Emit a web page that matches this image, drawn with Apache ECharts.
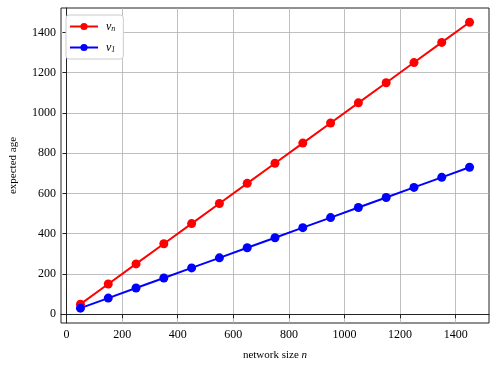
<!DOCTYPE html>
<html><head><meta charset="utf-8">
<script src="https://cdn.jsdelivr.net/npm/echarts@6/dist/echarts.min.js"></script>
<style>html,body{margin:0;padding:0;background:#fff}#c{width:498px;height:369px}</style>
</head><body><div id="c"></div>
<script>
const networkSize = [50,150,250,350,450,550,650,750,850,950,1050,1150,1250,1350,1450];
const vnValues = [50,150,250,350,450,550,650,750,850,950,1050,1150,1250,1350,1450];
const v1Values = [30,80,130,180,230,280,330,380,430,480,530,580,630,680,730];
const xTicks = [0,200,400,600,800,1000,1200,1400];
const yTicks = [0,200,400,600,800,1000,1200,1400];

const font = '"Liberation Serif", "DejaVu Serif", serif';
const chart = echarts.init(document.getElementById('c'));
const mk = arr => networkSize.map((x,i)=>[x,arr[i]]);
chart.setOption({
  animation:false,
  grid:{left:60,right:9,top:8,bottom:46,show:true,borderColor:'#222',borderWidth:1,backgroundColor:'transparent'},
  xAxis:{type:'value',min:-20,max:1520,
    name:'{t|network size }{i|n}',nameLocation:'middle',nameGap:27,
    nameTextStyle:{rich:{t:{fontFamily:font,fontSize:11,color:'#000'},i:{fontFamily:font,fontStyle:'italic',fontSize:11,color:'#000'}}},
    axisLine:{show:true,lineStyle:{color:'#222',width:1}},
    axisTick:{show:true,inside:false,length:4,customValues:xTicks,lineStyle:{color:'#222'}},
    axisLabel:{customValues:xTicks,formatter:v=>String(v),fontFamily:font,fontSize:12,color:'#000',margin:6},
    splitLine:{show:true,lineStyle:{color:'#b0b0b0',width:0.8}}},
  yAxis:{type:'value',min:-43.6,max:1521,
    name:'expected age',nameLocation:'middle',nameGap:42,nameRotate:90,
    nameTextStyle:{fontFamily:font,fontSize:11,color:'#000'},
    axisLine:{show:true,lineStyle:{color:'#222',width:1}},
    axisTick:{show:true,inside:false,length:4,customValues:yTicks,lineStyle:{color:'#222'}},
    axisLabel:{customValues:yTicks,formatter:v=>String(v),fontFamily:font,fontSize:12,color:'#000',margin:5},
    splitLine:{show:true,lineStyle:{color:'#b0b0b0',width:0.8}}},
  legend:{left:66,top:15,orient:'vertical',itemWidth:28,itemHeight:9,itemGap:8,
    backgroundColor:'#fff',borderColor:'#ccc',borderWidth:1,borderRadius:3,padding:[5,8,5,3],
    data:['vn','v1'],
    formatter:n=> n==='vn' ? '{i|v}{s|n}' : '{i|v}{s|1}',
    textStyle:{padding:[0,0,0,3],rich:{i:{fontFamily:font,fontStyle:'italic',fontSize:12,color:'#000',lineHeight:12},
      s:{fontFamily:font,fontStyle:'italic',fontSize:8,color:'#000',lineHeight:12,padding:[5,0,0,0]}}}},
  series:[
    {name:'vn',type:'line',data:mk(vnValues),symbol:'circle',symbolSize:9,itemStyle:{color:'#ff0000'},lineStyle:{color:'#ff0000',width:2}},
    {name:'v1',type:'line',data:mk(v1Values),symbol:'circle',symbolSize:9,itemStyle:{color:'#0000ff'},lineStyle:{color:'#0000ff',width:2}}
  ]
});
</script></body></html>
